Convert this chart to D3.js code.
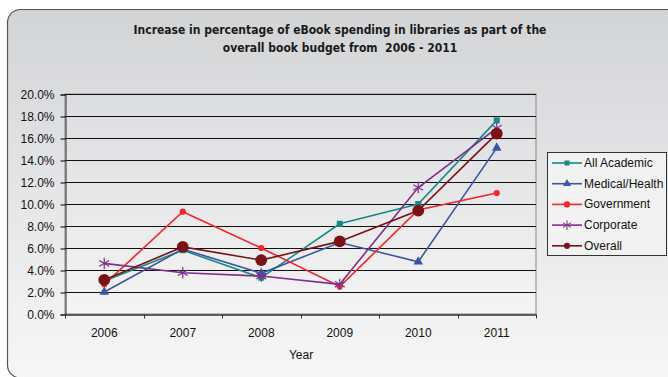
<!DOCTYPE html>
<head>
<meta charset="utf-8">
<style>
  body { margin: 0; background: #fff; }
  svg { display: block; }
  .title { font: bold 12px "DejaVu Sans Condensed", "Open Sans", sans-serif; fill: #1a1a1a; white-space: pre; }
  .tick text, .lbl { font: 12px "Liberation Sans", Arial, sans-serif; fill: #111; }
</style>
</head>
<body>
<script src="https://d3js.org/d3.v7.min.js"></script>
<script>

var years = ["2006", "2007", "2008", "2009", "2010", "2011"];
var yTicks = [0, 2, 4, 6, 8, 10, 12, 14, 16, 18, 20];

var allAcademic = [3.0, 5.8, 3.3, 8.2, 10.0, 17.6];
var medical     = [2.0, 5.9, 3.7, 6.5, 4.75, 15.1];
var government  = [2.7, 9.3, 6.0, 2.5, 9.45, 11.0];
var corporate   = [4.6, 3.75, 3.45, 2.7, 11.5, 16.9];
var overall     = [3.1, 6.1, 4.9, 6.6, 9.4, 16.4];

var series = [
  {name: "All Academic",   values: allAcademic, color: "#178a85", sym: d3.symbolSquare,   size: 36},
  {name: "Medical/Health", values: medical,     color: "#3b56a8", sym: d3.symbolTriangle, size: 40},
  {name: "Government",     values: government,  color: "#f2262b", sym: d3.symbolCircle,   size: 30},
  {name: "Corporate",      values: corporate,   color: "#7e2f8c", sym: d3.symbolAsterisk, size: 90},
  {name: "Overall",        values: overall,     color: "#7a1317", sym: d3.symbolCircle,   size: 110}
];

var W = 668, H = 377;
var svg = d3.select("body").append("svg").attr("width", W).attr("height", H);
var defs = svg.append("defs");

var bg = defs.append("linearGradient").attr("id", "bg").attr("x1", 0).attr("y1", 0).attr("x2", 0).attr("y2", 1);
bg.append("stop").attr("offset", "0").attr("stop-color", "#d3d4d6");
bg.append("stop").attr("offset", "1").attr("stop-color", "#f7f7f7");

var pg = defs.append("linearGradient").attr("id", "pg").attr("x1", 0).attr("y1", 0).attr("x2", 0).attr("y2", 1);
pg.append("stop").attr("offset", "0").attr("stop-color", "#dcdde0");
pg.append("stop").attr("offset", "1").attr("stop-color", "#f4f4f4");

svg.append("rect").attr("x", 7.5).attr("y", 9.5).attr("width", 672).attr("height", 368.5)
  .attr("rx", 13).attr("fill", "url(#bg)").attr("stroke", "#555").attr("stroke-width", 1.2);

svg.append("text").attr("class", "title").attr("x", 340).attr("y", 34).attr("text-anchor", "middle")
  .text("Increase in percentage of eBook spending in libraries as part of the");
svg.append("text").attr("class", "title").attr("x", 340).attr("y", 52).attr("text-anchor", "middle")
  .text("overall book budget from  2006 - 2011");

var pLeft = 65, pRight = 536, pTop = 94, pBottom = 314;

var x = d3.scaleBand().domain(years).range([pLeft, pRight]);
var y = d3.scaleLinear().domain([0, 20]).range([pBottom, pTop]);

svg.append("rect").attr("x", pLeft).attr("y", pTop).attr("width", pRight - pLeft).attr("height", pBottom - pTop)
  .attr("fill", "url(#pg)").attr("stroke", "#888");

// grid
svg.append("g").selectAll("line").data(yTicks.slice(1)).enter().append("line")
  .attr("x1", pLeft).attr("x2", pRight)
  .attr("y1", function(d) { return Math.round(y(d)) + 0.5; })
  .attr("y2", function(d) { return Math.round(y(d)) + 0.5; })
  .attr("stroke", "#111").attr("stroke-width", 1);

var yAxis = svg.append("g").attr("transform", "translate(" + (pLeft + 0.5) + ",0.5)")
  .call(d3.axisLeft(y).tickValues(yTicks).tickSize(5).tickPadding(6)
    .tickFormat(function(d) { return d.toFixed(1) + "%"; }));
yAxis.select(".domain").attr("stroke", "#333");

var xAxis = svg.append("g").attr("transform", "translate(0," + (pBottom + 0.5) + ")")
  .call(d3.axisBottom(x).tickSize(0).tickPadding(14));
xAxis.select(".domain").attr("stroke", "#333").attr("stroke-width", 1.5);
xAxis.selectAll(".bound").data(d3.range(years.length + 1)).enter().append("line")
  .attr("x1", function(i) { return Math.round(pLeft + i * x.bandwidth()) + 0.5; })
  .attr("x2", function(i) { return Math.round(pLeft + i * x.bandwidth()) + 0.5; })
  .attr("y1", 0).attr("y2", 4).attr("stroke", "#333");

svg.append("text").attr("class", "lbl").attr("x", 301).attr("y", 359).attr("text-anchor", "middle").text("Year");

var line = d3.line()
  .x(function(d, i) { return x(years[i]) + x.bandwidth() / 2; })
  .y(function(d) { return y(d); });

series.forEach(function(s) {
  var g = svg.append("g");
  g.append("path").attr("d", line(s.values)).attr("fill", "none")
    .attr("stroke", s.color).attr("stroke-width", 1.6);
  g.selectAll("path.m").data(s.values).enter().append("path").attr("class", "m")
    .attr("transform", function(d, i) { return "translate(" + (x(years[i]) + x.bandwidth() / 2) + "," + y(d) + ")"; })
    .attr("d", d3.symbol().type(s.sym).size(s.size))
    .attr("fill", s.sym === d3.symbolAsterisk ? "none" : s.color)
    .attr("stroke", s.sym === d3.symbolAsterisk ? s.color : "none")
    .attr("stroke-width", 1.2);
});

// legend
var lg = svg.append("g");
lg.append("rect").attr("x", 547.5).attr("y", 152.5).attr("width", 119).attr("height", 103)
  .attr("fill", "#f2f2f2").attr("stroke", "#333");
series.forEach(function(s, i) {
  var ly = 163 + i * 20.7;
  lg.append("line").attr("x1", 552).attr("x2", 582).attr("y1", ly).attr("y2", ly)
    .attr("stroke", s.color).attr("stroke-width", 1.6);
  lg.append("path").attr("transform", "translate(567," + ly + ")")
    .attr("d", d3.symbol().type(s.sym).size(s.sym === d3.symbolCircle ? 30 : s.size * 0.7))
    .attr("fill", s.sym === d3.symbolAsterisk ? "none" : s.color)
    .attr("stroke", s.sym === d3.symbolAsterisk ? s.color : "none");
  lg.append("text").attr("class", "lbl").attr("x", 584).attr("y", ly + 4).text(s.name);
});

</script>
</body>
